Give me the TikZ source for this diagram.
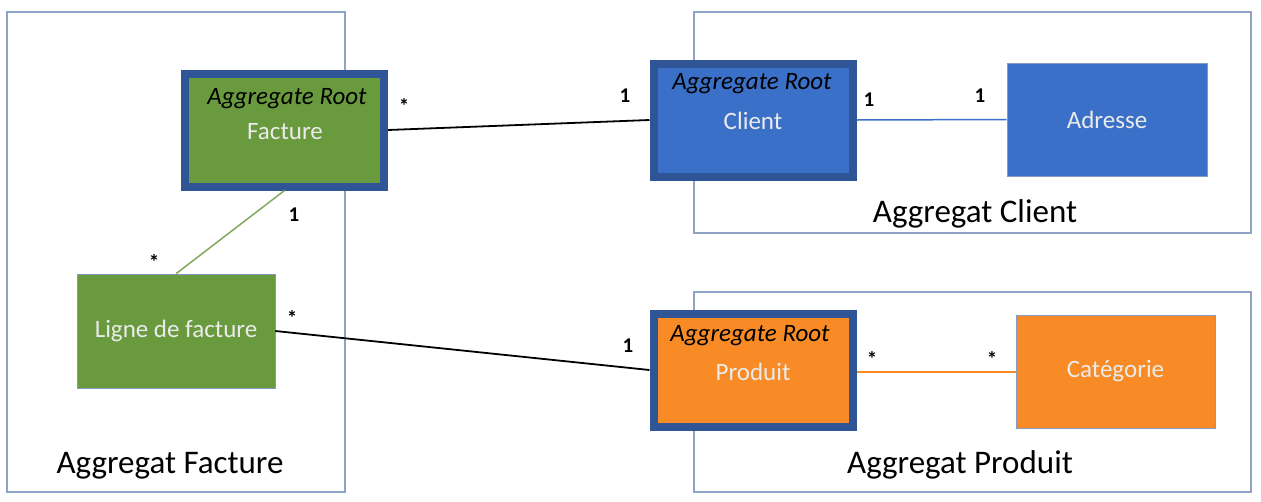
\documentclass[tikz,border=0pt]{standalone}
\usepackage{fontspec}
\setmainfont{Carlito}
\definecolor{rootborder}{HTML}{2F5597}
\definecolor{gfill}{HTML}{6A9A3E}
\definecolor{bfill}{HTML}{3A70C8}
\definecolor{ofill}{HTML}{F88B26}
\definecolor{frame}{HTML}{8EA3C6}
\begin{document}
\begin{tikzpicture}[x=1pt,y=-1pt,
  aggbox/.style={draw=frame, line width=1.2pt},
  aggtitle/.style={font=\fontsize{33}{36}\selectfont, text=black},
  rootbox/.style={draw=rootborder, line width=8pt, minimum width=199pt, minimum height=113pt, inner sep=0pt, text=white!92!black, font=\fontsize{25}{28}\selectfont},
  plainbox/.style={draw=rootborder!60, line width=0.6pt, minimum width=199pt, minimum height=113pt, inner sep=0pt, text=white!92!black, font=\fontsize{25}{28}\selectfont},
  roottag/.style={font=\fontsize{25}{28}\selectfont\itshape, text=black},
  nametxt/.style={font=\fontsize{25}{28}\selectfont, text=white!92!black},
  mult/.style={font=\fontsize{21}{24}\selectfont\bfseries, text=black},
  conn/.style={line width=1.8pt, black}
]
\useasboundingbox (0,0) rectangle (1261,501);
% aggregate frames
\draw[aggbox] (7,12) rectangle (345,492);
\draw[aggbox] (694,12) rectangle (1251,233);
\draw[aggbox] (694,292) rectangle (1251,492);
\node[aggtitle] (tf) at (170,466) {Aggregat Facture};
\node[aggtitle] (tc) at (975,214) {Aggregat Client};
\node[aggtitle] (tp) at (960,465) {Aggregat Produit};
% nodes
\node[rootbox, fill=gfill] (facture) at (284.5,130) {};
\node[nametxt] at (285,132) {Facture};
\node[roottag] at (287,99) {Aggregate Root};
\node[rootbox, fill=bfill] (client) at (753,120) {};
\node[nametxt] at (753,121) {Client};
\node[roottag] at (752,84) {Aggregate Root};
\node[rootbox, fill=ofill] (produit) at (753,370) {};
\node[nametxt] at (753,372) {Produit};
\node[roottag] at (750,336) {Aggregate Root};
\node[plainbox, fill=bfill, minimum width=200pt, minimum height=113pt] (adresse) at (1107,119.5) {Adresse};
\node[plainbox, fill=ofill, minimum width=199pt, minimum height=113pt] (categorie) at (1115.5,371.5) {Catégorie};
\node[plainbox, fill=gfill, minimum width=198pt, minimum height=114pt] (ligne) at (176,331) {Ligne de facture};
% connectors
\draw[conn] (facture.east) -- (client.west |- 0,120);
\draw[conn] (ligne.east) -- (produit.west);
\draw[line width=1.5pt, bfill] (client.east) -- (adresse.west);
\draw[line width=1.5pt, ofill] (produit.east |- 0,372) -- (categorie.west |- 0,372);
\draw[line width=1.5pt, gfill!85!white] (facture.south) -- (ligne.north);
% multiplicities
\node[mult] at (404,106) {*};
\node[mult] at (625,96) {1};
\node[mult] at (869,100) {1};
\node[mult] at (980,96) {1};
\node[mult] at (294,215) {1};
\node[mult] at (154,262) {*};
\node[mult] at (292,318) {*};
\node[mult] at (628,346) {1};
\node[mult] at (872,359) {*};
\node[mult] at (992,359) {*};
\end{tikzpicture}
\end{document}
